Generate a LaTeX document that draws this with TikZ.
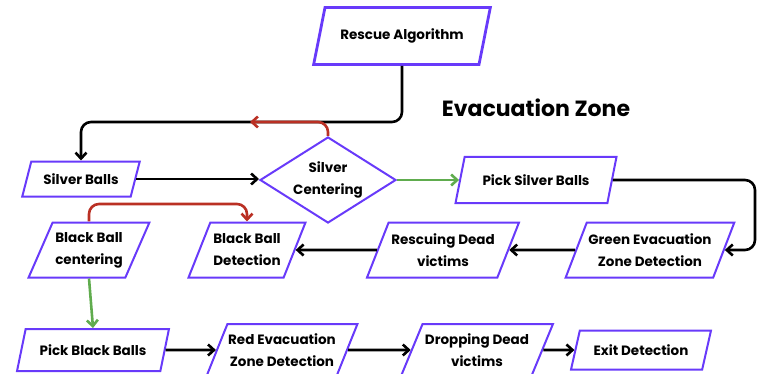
\documentclass[tikz,border=0pt]{standalone}
\usepackage{fontspec}
\setmainfont{Poppins}
\usetikzlibrary{shapes.geometric,arrows.meta}

\definecolor{boxline}{RGB}{104,58,250}
\definecolor{redline}{RGB}{186,48,36}
\definecolor{greenline}{RGB}{96,172,78}

\begin{document}
\begin{tikzpicture}[
        x=1pt, y=-1pt,
        box/.style={draw=boxline, line width=2pt, trapezium, trapezium left angle=58,
            trapezium right angle=122, trapezium stretches=true, inner sep=0pt,
            align=center, font=\fontsize{13.5}{22}\selectfont\bfseries},
        choice/.style={draw=boxline, line width=2pt, diamond, aspect=1.58, inner sep=0pt,
            align=center, font=\fontsize{13.5}{22}\selectfont\bfseries},
        arr/.style={-{Straight Barb[length=6pt,width=11pt]}, line width=2.6pt, rounded corners=10pt},
        yes/.style={arr, draw=greenline},
        no/.style={arr, draw=redline}
    ]
        \useasboundingbox (0,0) rectangle (767,374);

        % Title
        \node[font=\fontsize{22}{26}\selectfont\bfseries] (title) at (536,108) {Evacuation Zone};

        % Upper part
        \node[box, line width=2.8pt, minimum width=177, minimum height=57] (rescue) at (402,36) {Rescue Algorithm};
        \node[box, minimum width=118, minimum height=35] (silver) at (81,179) {Silver Balls};
        \node[choice, minimum width=136, minimum height=86] (silverC) at (328,180) {Silver\\Centering};
        \node[box, minimum width=161, minimum height=46] (pickS) at (536,180) {Pick Silver Balls};

        % Middle row
        \node[box, minimum width=169, minimum height=55] (greenEv) at (650,250) {Green Evacuation\\Zone Detection};
        \node[box, minimum width=152, minimum height=55] (rescuing) at (443,250) {Rescuing Dead\\victims};
        \node[box, minimum width=117, minimum height=55] (bbDet) at (247,250) {Black Ball\\Detection};
        \node[box, minimum width=121, minimum height=55] (bbCen) at (89,250) {Black Ball\\centering};

        % Lower row
        \node[box, minimum width=152, minimum height=42] (pickB) at (93,350) {Pick Black Balls};
        \node[box, minimum width=151, minimum height=52] (redEv) at (282,350) {Red Evacuation\\Zone Detection};
        \node[box, minimum width=152, minimum height=52] (drop) at (477,350) {Dropping Dead\\victims};
        \node[box, minimum width=140, minimum height=39] (exit) at (641,350) {Exit Detection};

        \coordinate (redTip) at (250,122);

        % Connectors
        \draw[arr] (rescue.south) -- (rescue.south |- 0,122) -- (silver.north |- 0,122) -- (silver.north);
        \draw[no] (silverC.north) -- (silverC.north |- redTip) -- (redTip);
        \draw[arr] (silver.east) -- (silver.east -| silverC.west);
        \draw[yes] (silverC.east) -- (pickS.west);
        \draw[arr] (pickS.east) -- (pickS.east -| 755,0) -- (greenEv.east -| 755,0) -- (greenEv.east);
        \draw[arr] (greenEv.west) -- (rescuing.east);
        \draw[arr] (rescuing.west) -- (bbDet.east);
        \draw[no] (bbCen.north) -- (bbCen.north |- 0,204) -- (bbDet.north |- 0,204) -- (bbDet.north);
        \draw[yes] (bbCen.south) -- (pickB.north);
        \draw[arr] (pickB.east) -- (redEv.west);
        \draw[arr] (redEv.east) -- (drop.west);
        \draw[arr] (drop.east) -- (exit.west);
    \end{tikzpicture}
\end{document}
